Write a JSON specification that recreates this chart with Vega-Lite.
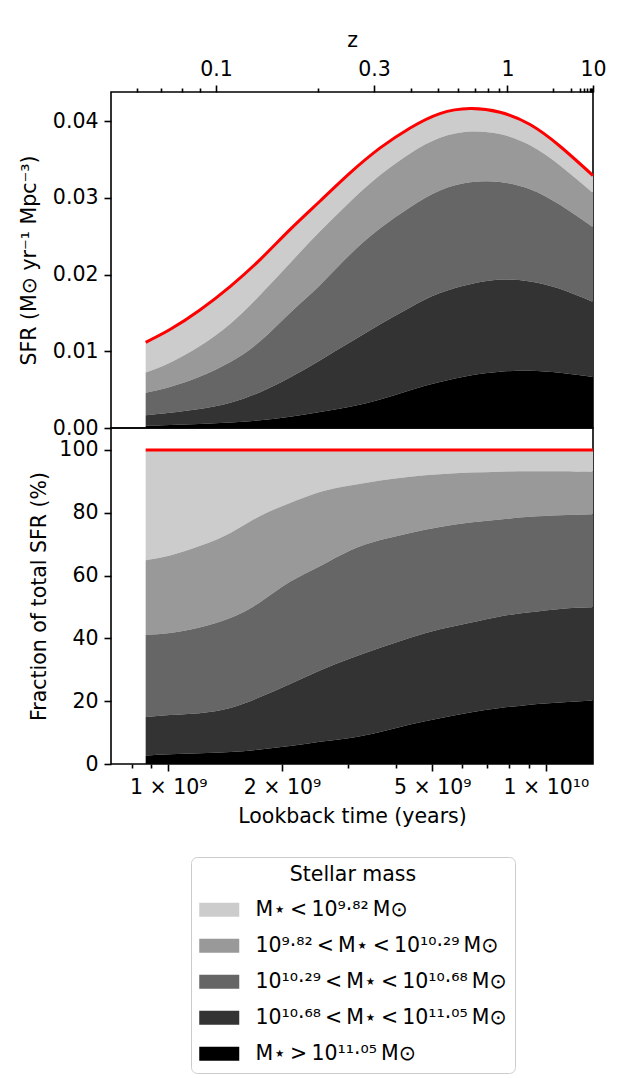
{
  "$schema": "https://vega.github.io/schema/vega-lite/v6.json",
  "background": "white",
  "padding": {"left": 18, "top": 29, "right": 5, "bottom": 5},
  "config": {
    "font": "DejaVu Sans",
    "view": {"stroke": "black", "strokeWidth": 1.6},
    "axis": {
      "domain": false, "grid": false, "tickColor": "black", "tickWidth": 1.6, "tickSize": 7,
      "labelFont": "DejaVu Sans", "labelFontSize": 20.5, "labelColor": "black", "labelPadding": 6,
      "titleFont": "DejaVu Sans", "titleFontSize": 20.5, "titleFontWeight": "normal", "titleColor": "black",
      "titlePadding": 9, "labelFlush": false, "labelOverlap": false
    },
    "legend": {
      "labelFont": "DejaVu Sans", "labelFontSize": 20.5, "labelColor": "black", "labelLimit": 0,
      "titleFont": "DejaVu Sans", "titleFontSize": 20.5, "titleFontWeight": "normal", "titleColor": "black"
    }
  },
  "data": {
    "values": [
      {"t": 8.71e8, "bin": "1", "sfr": 0.003921}, {"t": 8.71e8, "bin": "2", "sfr": 0.002658}, {"t": 8.71e8, "bin": "3", "sfr": 0.002915}, {"t": 8.71e8, "bin": "4", "sfr": 0.001374}, {"t": 8.71e8, "bin": "5", "sfr": 0.000302},
      {"t": 1.01e9, "bin": "1", "sfr": 0.004311}, {"t": 1.01e9, "bin": "2", "sfr": 0.003169}, {"t": 1.01e9, "bin": "3", "sfr": 0.003349}, {"t": 1.01e9, "bin": "4", "sfr": 0.001604}, {"t": 1.01e9, "bin": "5", "sfr": 0.000398},
      {"t": 1.21e9, "bin": "1", "sfr": 0.004697}, {"t": 1.21e9, "bin": "2", "sfr": 0.003976}, {"t": 1.21e9, "bin": "3", "sfr": 0.004191}, {"t": 1.21e9, "bin": "4", "sfr": 0.001965}, {"t": 1.21e9, "bin": "5", "sfr": 0.000522},
      {"t": 1.46e9, "bin": "1", "sfr": 0.004876}, {"t": 1.46e9, "bin": "2", "sfr": 0.005005}, {"t": 1.46e9, "bin": "3", "sfr": 0.005301}, {"t": 1.46e9, "bin": "4", "sfr": 0.002586}, {"t": 1.46e9, "bin": "5", "sfr": 0.000702},
      {"t": 1.75e9, "bin": "1", "sfr": 0.00461}, {"t": 1.75e9, "bin": "2", "sfr": 0.006036}, {"t": 1.75e9, "bin": "3", "sfr": 0.006629}, {"t": 1.75e9, "bin": "4", "sfr": 0.003666}, {"t": 1.75e9, "bin": "5", "sfr": 0.00101},
      {"t": 2.10e9, "bin": "1", "sfr": 0.00437}, {"t": 2.10e9, "bin": "2", "sfr": 0.006491}, {"t": 2.10e9, "bin": "3", "sfr": 0.008405}, {"t": 2.10e9, "bin": "4", "sfr": 0.00512}, {"t": 2.10e9, "bin": "5", "sfr": 0.001474},
      {"t": 2.52e9, "bin": "1", "sfr": 0.003961}, {"t": 2.52e9, "bin": "2", "sfr": 0.006976}, {"t": 2.52e9, "bin": "3", "sfr": 0.009814}, {"t": 2.52e9, "bin": "4", "sfr": 0.00671}, {"t": 2.52e9, "bin": "5", "sfr": 0.002099},
      {"t": 3.03e9, "bin": "1", "sfr": 0.003757}, {"t": 3.03e9, "bin": "2", "sfr": 0.006883}, {"t": 3.03e9, "bin": "3", "sfr": 0.011438}, {"t": 3.03e9, "bin": "4", "sfr": 0.008412}, {"t": 3.03e9, "bin": "5", "sfr": 0.00276},
      {"t": 3.64e9, "bin": "1", "sfr": 0.003541}, {"t": 3.64e9, "bin": "2", "sfr": 0.006937}, {"t": 3.64e9, "bin": "3", "sfr": 0.012523}, {"t": 3.64e9, "bin": "4", "sfr": 0.009785}, {"t": 3.64e9, "bin": "5", "sfr": 0.003724},
      {"t": 4.37e9, "bin": "1", "sfr": 0.003324}, {"t": 4.37e9, "bin": "2", "sfr": 0.007001}, {"t": 4.37e9, "bin": "3", "sfr": 0.013063}, {"t": 4.37e9, "bin": "4", "sfr": 0.010794}, {"t": 4.37e9, "bin": "5", "sfr": 0.004928},
      {"t": 5.24e9, "bin": "1", "sfr": 0.003156}, {"t": 5.24e9, "bin": "2", "sfr": 0.006886}, {"t": 5.24e9, "bin": "3", "sfr": 0.013363}, {"t": 5.24e9, "bin": "4", "sfr": 0.0116}, {"t": 5.24e9, "bin": "5", "sfr": 0.005985},
      {"t": 6.30e9, "bin": "1", "sfr": 0.002998}, {"t": 6.30e9, "bin": "2", "sfr": 0.006621}, {"t": 6.30e9, "bin": "3", "sfr": 0.013283}, {"t": 6.30e9, "bin": "4", "sfr": 0.011909}, {"t": 6.30e9, "bin": "5", "sfr": 0.006829},
      {"t": 7.56e9, "bin": "1", "sfr": 0.00284}, {"t": 7.56e9, "bin": "2", "sfr": 0.006256}, {"t": 7.56e9, "bin": "3", "sfr": 0.012718}, {"t": 7.56e9, "bin": "4", "sfr": 0.012019}, {"t": 7.56e9, "bin": "5", "sfr": 0.007326},
      {"t": 9.08e9, "bin": "1", "sfr": 0.00269}, {"t": 9.08e9, "bin": "2", "sfr": 0.005736}, {"t": 9.08e9, "bin": "3", "sfr": 0.012026}, {"t": 9.08e9, "bin": "4", "sfr": 0.011631}, {"t": 9.08e9, "bin": "5", "sfr": 0.007477},
      {"t": 1.09e10, "bin": "1", "sfr": 0.002498}, {"t": 1.09e10, "bin": "2", "sfr": 0.005142}, {"t": 1.09e10, "bin": "3", "sfr": 0.010946}, {"t": 1.09e10, "bin": "4", "sfr": 0.010946}, {"t": 1.09e10, "bin": "5", "sfr": 0.007199},
      {"t": 1.333e10, "bin": "1", "sfr": 0.002271}, {"t": 1.333e10, "bin": "2", "sfr": 0.004476}, {"t": 1.333e10, "bin": "3", "sfr": 0.009741}, {"t": 1.333e10, "bin": "4", "sfr": 0.009774}, {"t": 1.333e10, "bin": "5", "sfr": 0.006648}
    ]
  },
  "spacing": 0,
  "bounds": "flush",
  "resolve": {"scale": {"color": "shared"}, "legend": {"color": "shared"}},
  "vconcat": [
    {
      "width": 482,
      "height": 336,
      "layer": [
        {
          "mark": {"type": "area", "interpolate": "natural", "opacity": 1},
          "encoding": {
            "x": {
              "field": "t", "type": "quantitative",
              "scale": {"type": "log", "domain": [7.05e8, 1.333e10], "nice": false},
              "axis": {
                "orient": "top", "title": "z",
                "values": [8.26e8, 9.565e8, 1.087e9, 1.213e9, 1.338e9, 2.493e9, 3.507e9, 4.395e9, 5.18e9, 5.853e9, 6.493e9, 7.031e9, 7.516e9, 7.91e9, 1.045e10, 1.164e10, 1.228e10, 1.265e10, 1.289e10, 1.306e10, 1.319e10, 1.328e10, 1.333e10],
                "labelExpr": "datum.value == 1.338e9 ? '0.1' : datum.value == 3.507e9 ? '0.3' : datum.value == 7.91e9 ? '1' : datum.value == 1.333e10 ? '10' : ''",
                "tickSize": {"condition": {"test": "datum.value == 1.338e9 || datum.value == 3.507e9 || datum.value == 7.91e9 || datum.value == 1.333e10", "value": 7}, "value": 4}
              }
            },
            "y": {
              "field": "sfr", "type": "quantitative", "stack": "zero",
              "scale": {"domain": [0, 0.0438], "nice": false},
              "axis": {"title": "SFR (M⊙ yr⁻¹ Mpc⁻³)", "titlePadding": 13, "values": [0, 0.01, 0.02, 0.03, 0.04], "format": ".2f"}
            },
            "color": {
              "field": "bin", "type": "nominal",
              "scale": {"domain": ["1", "2", "3", "4", "5"], "range": ["#cccccc", "#999999", "#666666", "#333333", "#000000"]},
              "legend": {
                "orient": "none", "legendX": 80, "legendY": 765,
                "title": "Stellar mass", "titleAnchor": "middle", "titlePadding": 14,
                "labelExpr": "datum.label == '1' ? 'M⋆\u2009<\u200910⁹·⁸²\u2009M⊙' : datum.label == '2' ? '10⁹·⁸²\u2009<\u2009M⋆\u2009<\u200910¹⁰·²⁹\u2009M⊙' : datum.label == '3' ? '10¹⁰·²⁹\u2009<\u2009M⋆\u2009<\u200910¹⁰·⁶⁸\u2009M⊙' : datum.label == '4' ? '10¹⁰·⁶⁸\u2009<\u2009M⋆\u2009<\u200910¹¹·⁰⁵\u2009M⊙' : 'M⋆\u2009>\u200910¹¹·⁰⁵\u2009M⊙'",
                "symbolType": "M-1,-0.7H3V0.7H-1Z", "symbolSize": 400, "symbolStrokeWidth": 0, "symbolOpacity": 1,
                "labelOffset": 36, "rowPadding": 15, "padding": 8,
                "strokeColor": "#cccccc", "fillColor": "white", "cornerRadius": 6
              }
            },
            "order": {"field": "bin", "sort": "descending"}
          }
        },
        {
          "mark": {"type": "line", "interpolate": "natural", "color": "red", "strokeWidth": 3},
          "encoding": {
            "x": {"field": "t", "type": "quantitative"},
            "y": {"aggregate": "sum", "field": "sfr", "type": "quantitative", "title": "SFR (M⊙ yr⁻¹ Mpc⁻³)"}
          }
        }
      ]
    },
    {
      "width": 482,
      "height": 336,
      "layer": [
        {
          "mark": {"type": "area", "interpolate": "natural", "opacity": 1},
          "encoding": {
            "x": {
              "field": "t", "type": "quantitative",
              "scale": {"type": "log", "domain": [7.05e8, 1.333e10], "nice": false},
              "axis": {
                "title": "Lookback time (years)",
                "values": [8e8, 9e8, 1e9, 2e9, 3e9, 4e9, 5e9, 6e9, 7e9, 8e9, 9e9, 1e10],
                "labelExpr": "datum.value == 1e9 ? '1 × 10⁹' : datum.value == 2e9 ? '2 × 10⁹' : datum.value == 5e9 ? '5 × 10⁹' : datum.value == 1e10 ? '1 × 10¹⁰' : ''",
                "tickSize": {"condition": {"test": "datum.value == 1e9 || datum.value == 2e9 || datum.value == 5e9 || datum.value == 1e10", "value": 7}, "value": 4}
              }
            },
            "y": {
              "field": "sfr", "type": "quantitative", "stack": "normalize",
              "scale": {"domain": [0, 1.07], "nice": false},
              "axis": {"title": "Fraction of total SFR (%)", "values": [0, 0.2, 0.4, 0.6, 0.8, 1], "labelExpr": "format(datum.value * 100, 'd')"}
            },
            "color": {"field": "bin", "type": "nominal"},
            "order": {"field": "bin", "sort": "descending"}
          }
        },
        {
          "mark": {"type": "line", "color": "red", "strokeWidth": 3},
          "encoding": {
            "x": {"field": "t", "type": "quantitative"},
            "y": {"datum": 1}
          }
        }
      ]
    }
  ]
}
